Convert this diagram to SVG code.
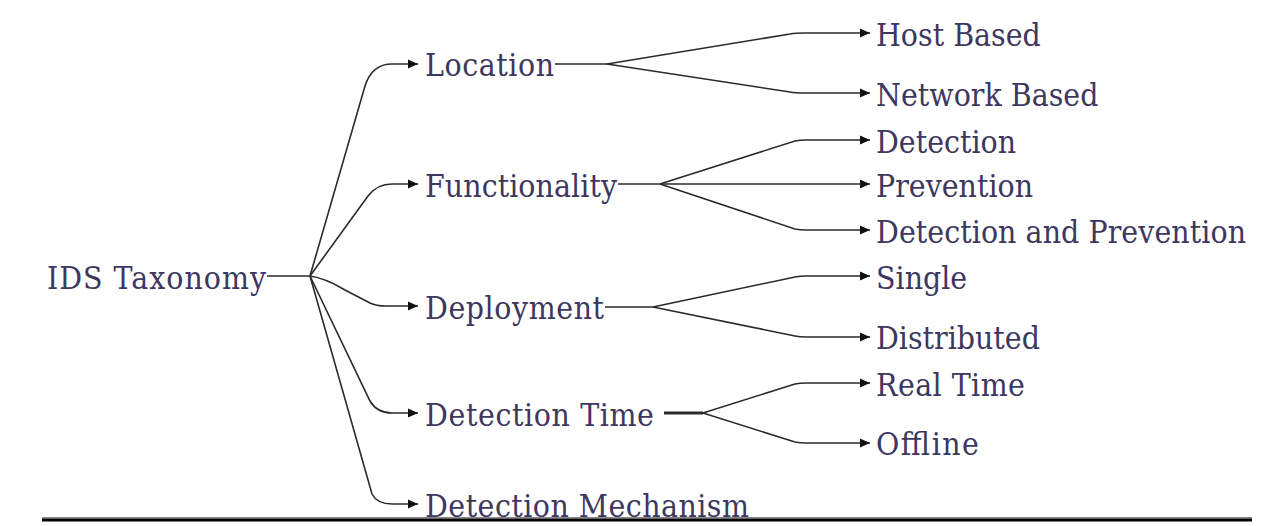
<svg xmlns="http://www.w3.org/2000/svg" width="1278" height="526" viewBox="0 0 1278 526">
<defs>
<marker id="arr" markerUnits="userSpaceOnUse" markerWidth="11" markerHeight="10" refX="10" refY="5" orient="auto">
<path d="M0,0.5 L10,5 L0,9.5 z" fill="#111"/>
</marker>
<style>
.t{font-family:"DejaVu Serif",serif;font-size:28.5px;fill:#3e3760}
.e{fill:none;stroke:#2a2a2a;stroke-width:1.6}
.a{marker-end:url(#arr)}
</style>
</defs>
<rect width="1278" height="526" fill="#fff"/>
<g id="connectors">
<path class="e" d="M267,276 L310,276"/>
<path class="e a" d="M310,276 L365,86 Q372,64 392,64 L418,64"/>
<path class="e a" d="M310,276 L368,196 Q377,184 392,184 L418,184"/>
<path class="e a" d="M310,276 Q325,278 345,290 L370,303 Q376,306 386,306 L418,306"/>
<path class="e a" d="M310,276 L370,401 Q377,413 392,413 L418,413"/>
<path class="e a" d="M310,276 L372,494 Q377,504 392,504 L418,504"/>
<path class="e" d="M555,64 L607,64"/>
<path class="e a" d="M607,64 L790,34 Q795,33 805,33 L870,33"/>
<path class="e a" d="M607,64 L790,92 Q795,93 805,93 L870,93"/>
<path class="e" d="M618,184 L660,184"/>
<path class="e a" d="M660,184 L795,141 Q800,140 806,140 L870,140"/>
<path class="e a" d="M660,184 L870,184"/>
<path class="e a" d="M660,184 L795,229 Q800,230 806,230 L870,230"/>
<path class="e" d="M605,307 L653,307"/>
<path class="e a" d="M653,307 L795,277 Q800,276 806,276 L870,276"/>
<path class="e a" d="M653,307 L795,336 Q800,337 806,337 L870,337"/>
<path class="e" style="stroke-width:3" d="M664,413 L703,413"/>
<path class="e a" d="M703,413 L795,384 Q800,383 806,383 L870,383"/>
<path class="e a" d="M703,413 L795,442 Q800,443 806,443 L870,443"/>
</g>
<g id="n-root"><text class="t" transform="matrix(1,0,0,1.08,47,289)" textLength="219">IDS Taxonomy</text></g>
<g id="n-location"><text class="t" transform="matrix(1,0,0,1.08,425,76)" textLength="129">Location</text></g>
<g id="n-functionality"><text class="t" transform="matrix(1,0,0,1.08,425,197)" textLength="192">Functionality</text></g>
<g id="n-deployment"><text class="t" transform="matrix(1,0,0,1.08,425,319)" textLength="179">Deployment</text></g>
<g id="n-detection-time"><text class="t" transform="matrix(1,0,0,1.08,425,426)" textLength="229">Detection Time</text></g>
<g id="n-detection-mechanism"><text class="t" transform="matrix(1,0,0,1.08,425,517)" textLength="324">Detection Mechanism</text></g>
<g id="n-host"><text class="t" transform="matrix(1,0,0,1.08,876,46)">Host Based</text></g>
<g id="n-network"><text class="t" transform="matrix(1,0,0,1.08,876,106)">Network Based</text></g>
<g id="n-detection"><text class="t" transform="matrix(1,0,0,1.08,876,153)">Detection</text></g>
<g id="n-prevention"><text class="t" transform="matrix(1,0,0,1.08,876,197)">Prevention</text></g>
<g id="n-dp"><text class="t" transform="matrix(1,0,0,1.08,876,243)" textLength="370">Detection and Prevention</text></g>
<g id="n-single"><text class="t" transform="matrix(1,0,0,1.08,876,289)">Single</text></g>
<g id="n-distributed"><text class="t" transform="matrix(1,0,0,1.08,876,349)">Distributed</text></g>
<g id="n-realtime"><text class="t" transform="matrix(1,0,0,1.08,876,396)" textLength="149">Real Time</text></g>
<g id="n-offline"><text class="t" transform="matrix(1,0,0,1.08,876,455)" textLength="103">Offline</text></g>
<rect x="42" y="517" width="1210" height="1.5" fill="#888"/>
<rect x="42" y="518.5" width="1210" height="3" fill="#000"/>
</svg>
